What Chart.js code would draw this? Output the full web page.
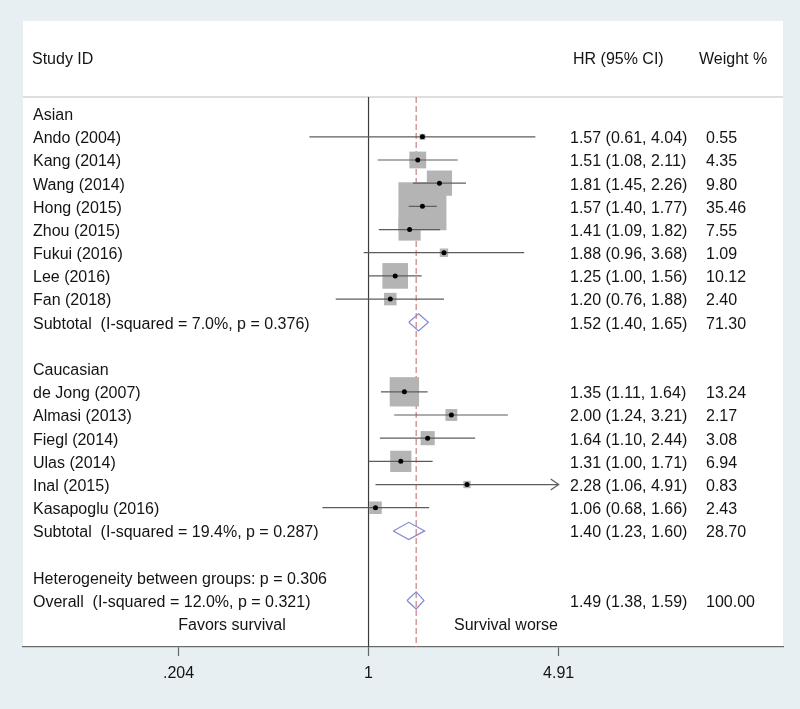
<!DOCTYPE html>
<html>
<head>
<meta charset="utf-8">
<title>Forest plot - HR by ethnicity</title>
<script src="https://cdn.jsdelivr.net/npm/chart.js@4.4.1/dist/chart.umd.min.js"></script>
<style>
  html, body { margin: 0; padding: 0; background: #e7eff3; }
  #chart { display: block; }
</style>
</head>
<body>
<canvas id="chart" width="800" height="709"></canvas>
<script>
// forest.js - meta-analysis forest plot

const groupNames = ['Asian', 'Caucasian'];
const studyGroups = [0, 0, 0, 0, 0, 0, 0, 0, 1, 1, 1, 1, 1, 1];
const studies = ['Ando (2004)', 'Kang (2014)', 'Wang (2014)', 'Hong (2015)', 'Zhou (2015)', 'Fukui (2016)', 'Lee (2016)', 'Fan (2018)',
    'de Jong (2007)', 'Almasi (2013)', 'Fiegl (2014)', 'Ulas (2014)', 'Inal (2015)', 'Kasapoglu (2016)'];
const hr = [1.57, 1.51, 1.81, 1.57, 1.41, 1.88, 1.25, 1.20, 1.35, 2.00, 1.64, 1.31, 2.28, 1.06];
const lower = [0.61, 1.08, 1.45, 1.40, 1.09, 0.96, 1.00, 0.76, 1.11, 1.24, 1.10, 1.00, 1.06, 0.68];
const upper = [4.04, 2.11, 2.26, 1.77, 1.82, 3.68, 1.56, 1.88, 1.64, 3.21, 2.44, 1.71, 4.91, 1.66];
const weights = [0.55, 4.35, 9.80, 35.46, 7.55, 1.09, 10.12, 2.40, 13.24, 2.17, 3.08, 6.94, 0.83, 2.43];

// pooled per group
const subHr = [1.52, 1.40];
const subLower = [1.40, 1.23];
const subUpper = [1.65, 1.60];
const subWeights = [71.30, 28.70];
const subI2 = ['7.0%', '19.4%'];
const subP = ['0.376', '0.287'];

// overall
const overallHr = 1.49;
const overallLower = 1.38;
const overallUpper = 1.59;
const overallWeight = 100.00;
const overallI2 = '12.0%';
const overallP = '0.321';
const hetP = '0.306';

const tickValues = [0.204, 1, 4.91];
const tickLabels = ['.204', '1', '4.91'];

const FONT = '16px "Liberation Sans", Arial, sans-serif';
const TEXT_COLOR = '#141414';

// Build row layout
const rows = [];
const studyRow = [];
const subRow = [];
let r = 0;
groupNames.forEach((g, gi) => {
    rows.push({ y: r++, label: g });
    studies.forEach((s, i) => {
        if (studyGroups[i] !== gi) return;
        studyRow[i] = r;
        rows.push({ y: r++, label: s, hr: hr[i], lo: lower[i], hi: upper[i], w: weights[i] });
    });
    subRow[gi] = r;
    rows.push({ y: r++, label: `Subtotal  (I-squared = ${subI2[gi]}, p = ${subP[gi]})`,
        hr: subHr[gi], lo: subLower[gi], hi: subUpper[gi], w: subWeights[gi] });
    r++;
});
rows.push({ y: r++, label: `Heterogeneity between groups: p = ${hetP}` });
const overallRow = r;
rows.push({ y: r++, label: `Overall  (I-squared = ${overallI2}, p = ${overallP})`,
    hr: overallHr, lo: overallLower, hi: overallUpper, w: overallWeight });
const favorsRow = r;

const Y_MIN = -0.717;
const Y_MAX = 23.008;
const DIAMOND_H = 0.37;

function boxSide(w) {
    return 8.06 * Math.sqrt(w);
}

function diamond(h, lo, hi, row) {
    return [
        { x: lo, y: row },
        { x: h, y: row - DIAMOND_H },
        { x: hi, y: row },
        { x: h, y: row + DIAMOND_H },
        { x: lo, y: row }
    ];
}

const datasets = [];

// point estimates
datasets.push({
    data: studies.map((s, i) => ({ x: hr[i], y: studyRow[i] })),
    pointStyle: 'circle',
    pointRadius: 2.5,
    backgroundColor: '#000',
    borderWidth: 0,
    order: 0
});

// confidence intervals
studies.forEach((s, i) => {
    datasets.push({
        data: [{ x: lower[i], y: studyRow[i] }, { x: upper[i], y: studyRow[i] }],
        showLine: true,
        borderColor: '#5c5c5c',
        borderWidth: 1.2,
        pointRadius: 0,
        order: 1
    });
});

// weight boxes
datasets.push({
    data: studies.map((s, i) => ({ x: hr[i], y: studyRow[i] })),
    pointStyle: 'rect',
    pointRadius: ctx => boxSide(weights[ctx.dataIndex]) / Math.SQRT2,
    backgroundColor: '#b4b4b4',
    borderWidth: 0,
    order: 2
});

// pooled diamonds
subHr.forEach((h, gi) => {
    datasets.push({
        data: diamond(h, subLower[gi], subUpper[gi], subRow[gi]),
        showLine: true,
        borderColor: '#8488d4',
        borderWidth: 1.2,
        pointRadius: 0,
        order: 3
    });
});
datasets.push({
    data: diamond(overallHr, overallLower, overallUpper, overallRow),
    showLine: true,
    borderColor: '#8488d4',
    borderWidth: 1.2,
    pointRadius: 0,
    order: 3
});

// overall effect (dashed) and no effect line
datasets.push({
    data: [{ x: overallHr, y: Y_MIN }, { x: overallHr, y: Y_MAX }],
    showLine: true,
    borderColor: '#c98080',
    borderWidth: 1.2,
    borderDash: [6, 3],
    pointRadius: 0,
    order: 4
});
datasets.push({
    data: [{ x: 1, y: Y_MIN }, { x: 1, y: Y_MAX }],
    showLine: true,
    borderColor: '#3c3c3c',
    borderWidth: 1.2,
    pointRadius: 0,
    order: 5
});

const forestText = {
    id: 'forestText',
    beforeDraw(chart) {
        const ctx = chart.ctx;
        const area = chart.chartArea;
        ctx.save();
        ctx.fillStyle = '#e7eff3';
        ctx.fillRect(0, 0, chart.width, chart.height);
        ctx.fillStyle = '#ffffff';
        ctx.fillRect(area.left, 21, area.right - area.left, area.bottom - 21);
        // header separator
        ctx.fillStyle = '#dedede';
        ctx.fillRect(area.left, area.top - 1, area.right - area.left, 2);
        ctx.restore();
    },
    afterDraw(chart) {
        const ctx = chart.ctx;
        const xs = chart.scales.x;
        const ys = chart.scales.y;
        ctx.save();
        ctx.font = FONT;
        ctx.fillStyle = TEXT_COLOR;
        ctx.textBaseline = 'middle';
        ctx.textAlign = 'left';

        // headers
        ctx.fillText('Study ID', 32, 60);
        ctx.fillText('HR (95% CI)', 573, 60);
        ctx.fillText('Weight %', 699, 60);

        rows.forEach(row => {
            const y = ys.getPixelForValue(row.y) + 2;
            ctx.fillText(row.label, 33, y);
            if (row.hr !== undefined) {
                ctx.fillText(`${row.hr.toFixed(2)} (${row.lo.toFixed(2)}, ${row.hi.toFixed(2)})`, 570, y);
                ctx.fillText(row.w.toFixed(2), 706, y);
            }
        });

        const fy = ys.getPixelForValue(favorsRow) + 2;
        ctx.textAlign = 'center';
        ctx.fillText('Favors survival', 232, fy);
        ctx.fillText('Survival worse', 506, fy);

        // arrow where CI runs to the axis limit
        const limit = tickValues[tickValues.length - 1];
        ctx.strokeStyle = '#5c5c5c';
        ctx.lineWidth = 1.2;
        studies.forEach((s, i) => {
            if (upper[i] < limit) return;
            const x = xs.getPixelForValue(limit);
            const y = ys.getPixelForValue(studyRow[i]);
            ctx.beginPath();
            ctx.moveTo(x - 8, y - 5.5);
            ctx.lineTo(x, y);
            ctx.lineTo(x - 8, y + 5.5);
            ctx.stroke();
        });
        ctx.restore();
    }
};

new Chart(document.getElementById('chart'), {
    type: 'scatter',
    data: { datasets: datasets },
    plugins: [forestText],
    options: {
        responsive: false,
        animation: false,
        events: [],
        layout: { autoPadding: false, padding: { left: 23, right: 17, top: 97, bottom: 17.8 } },
        plugins: {
            legend: { display: false },
            tooltip: { enabled: false }
        },
        scales: {
            x: {
                type: 'logarithmic',
                min: 0.05549,
                max: 32.09,
                bounds: 'data',
                afterBuildTicks: scale => {
                    scale.ticks = tickValues.map(v => ({ value: v }));
                },
                ticks: {
                    autoSkip: false,
                    maxRotation: 0,
                    padding: 8,
                    color: TEXT_COLOR,
                    font: { family: '"Liberation Sans", Arial, sans-serif', size: 16 },
                    callback: (v, i) => tickLabels[i]
                },
                grid: {
                    display: true,
                    drawOnChartArea: false,
                    drawTicks: true,
                    tickLength: 9,
                    tickWidth: 1.2,
                    color: '#666'
                },
                border: { display: true, color: '#6b6b6b', width: 1.2 }
            },
            y: {
                type: 'linear',
                display: false,
                reverse: true,
                min: Y_MIN,
                max: Y_MAX
            }
        }
    }
});
</script>
</body>
</html>
